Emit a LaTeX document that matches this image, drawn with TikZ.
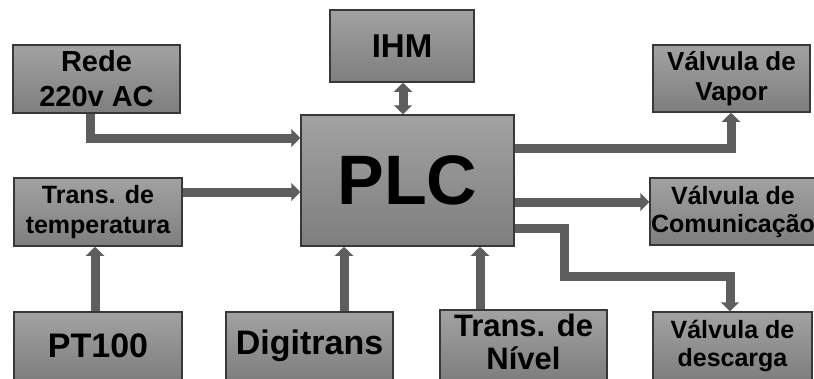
\documentclass[tikz,border=0pt]{standalone}
\usepackage{fontspec}
\setmainfont{Liberation Sans}
\usetikzlibrary{arrows.meta}
\definecolor{boxtop}{HTML}{A2A2A2}
\definecolor{boxbot}{HTML}{7E7E7E}
\definecolor{boxline}{HTML}{383838}
\definecolor{wire}{HTML}{5E5E5E}
\tikzset{
  block/.style={draw=boxline, line width=1.5pt, top color=boxtop, bottom color=boxbot,
    inner sep=0pt, align=center, font=\bfseries},
  fsz/.style n args={2}{font=\bfseries\fontsize{#1}{#2}\selectfont},
  wirearrow/.style={draw=wire, line width=9pt, line cap=butt, line join=miter,
    -{Triangle[width=18pt,length=9pt]}},
  wirebi/.style={draw=wire, line width=9pt, line cap=butt,
    {Triangle[width=18pt,length=9pt]}-{Triangle[width=18pt,length=9pt]}}
}
\begin{document}
\begin{tikzpicture}[x=1pt,y=1pt]
\useasboundingbox (0,0) rectangle (814,-378);
\begin{scope}
\clip (0,0) rectangle (814,-378);

% inputs on the left
\node[block, fsz={29}{35}, minimum width=167, minimum height=68] (rede) at (96.5,-79) {Rede\\220v AC};
\node[block, fsz={25}{30}, minimum width=168, minimum height=68] (temp) at (98,-212) {Trans. de\\temperatura};

% controller and operator panel
\node[block, fsz={33}{38}, minimum width=144, minimum height=72] (ihm) at (402,-46) {IHM};
\node[block, fsz={70}{80}, minimum width=213, minimum height=131] (plc) at (407.5,-180.5) {PLC};

% sensors along the bottom
\node[block, fsz={34}{40}, minimum width=168, minimum height=68] (pt) at (98,-346) {PT100};
\node[block, fsz={34}{40}, minimum width=167, minimum height=68] (digi) at (309.5,-346) {Digitrans};
\node[block, minimum width=167, minimum height=70] (nivel) at (523.5,-345) {};
\node[fsz={31}{33}, align=center, inner sep=0pt] (niveltxt) at (523.5,-342) {Trans. de\\Nível};

% valves on the right
\node[block, fsz={26}{30}, minimum width=157, minimum height=67] (vapor) at (731.5,-78.5) {Válvula de\\Vapor};
\node[block, fsz={25}{28}, minimum width=166, minimum height=67] (comun) at (733,-211.5) {Válvula de\\Comunicação};
\node[block, fsz={25}{28}, minimum width=159, minimum height=68] (desc) at (732.5,-346) {Válvula de\\descarga};

% signal paths
\draw[wirearrow] (rede.south -| 90,0) |- (plc.west |- 0,-138);
\draw[wirearrow] (temp.east |- 0,-192) -- (plc.west |- 0,-192);
\draw[wirearrow] (pt.north -| 95,0) -- (temp.south -| 95,0);
\draw[wirearrow] (digi.north -| 344,0) -- (plc.south -| 344,0);
\draw[wirearrow] (nivel.north -| 480,0) -- (plc.south -| 480,0);
\draw[wirebi] (ihm.south -| 403,0) -- (plc.north -| 403,0);
\draw[wirearrow] (plc.east |- 0,-148) -| (vapor.south -| 731,0);
\draw[wirearrow] (plc.east |- 0,-202) -- (comun.west |- 0,-202);
\coordinate (bend) at (564,-276);
\draw[wirearrow] (plc.east |- 0,-228) -| (bend) -| (desc.north -| 730,0);
\end{scope}
\end{tikzpicture}
\end{document}
